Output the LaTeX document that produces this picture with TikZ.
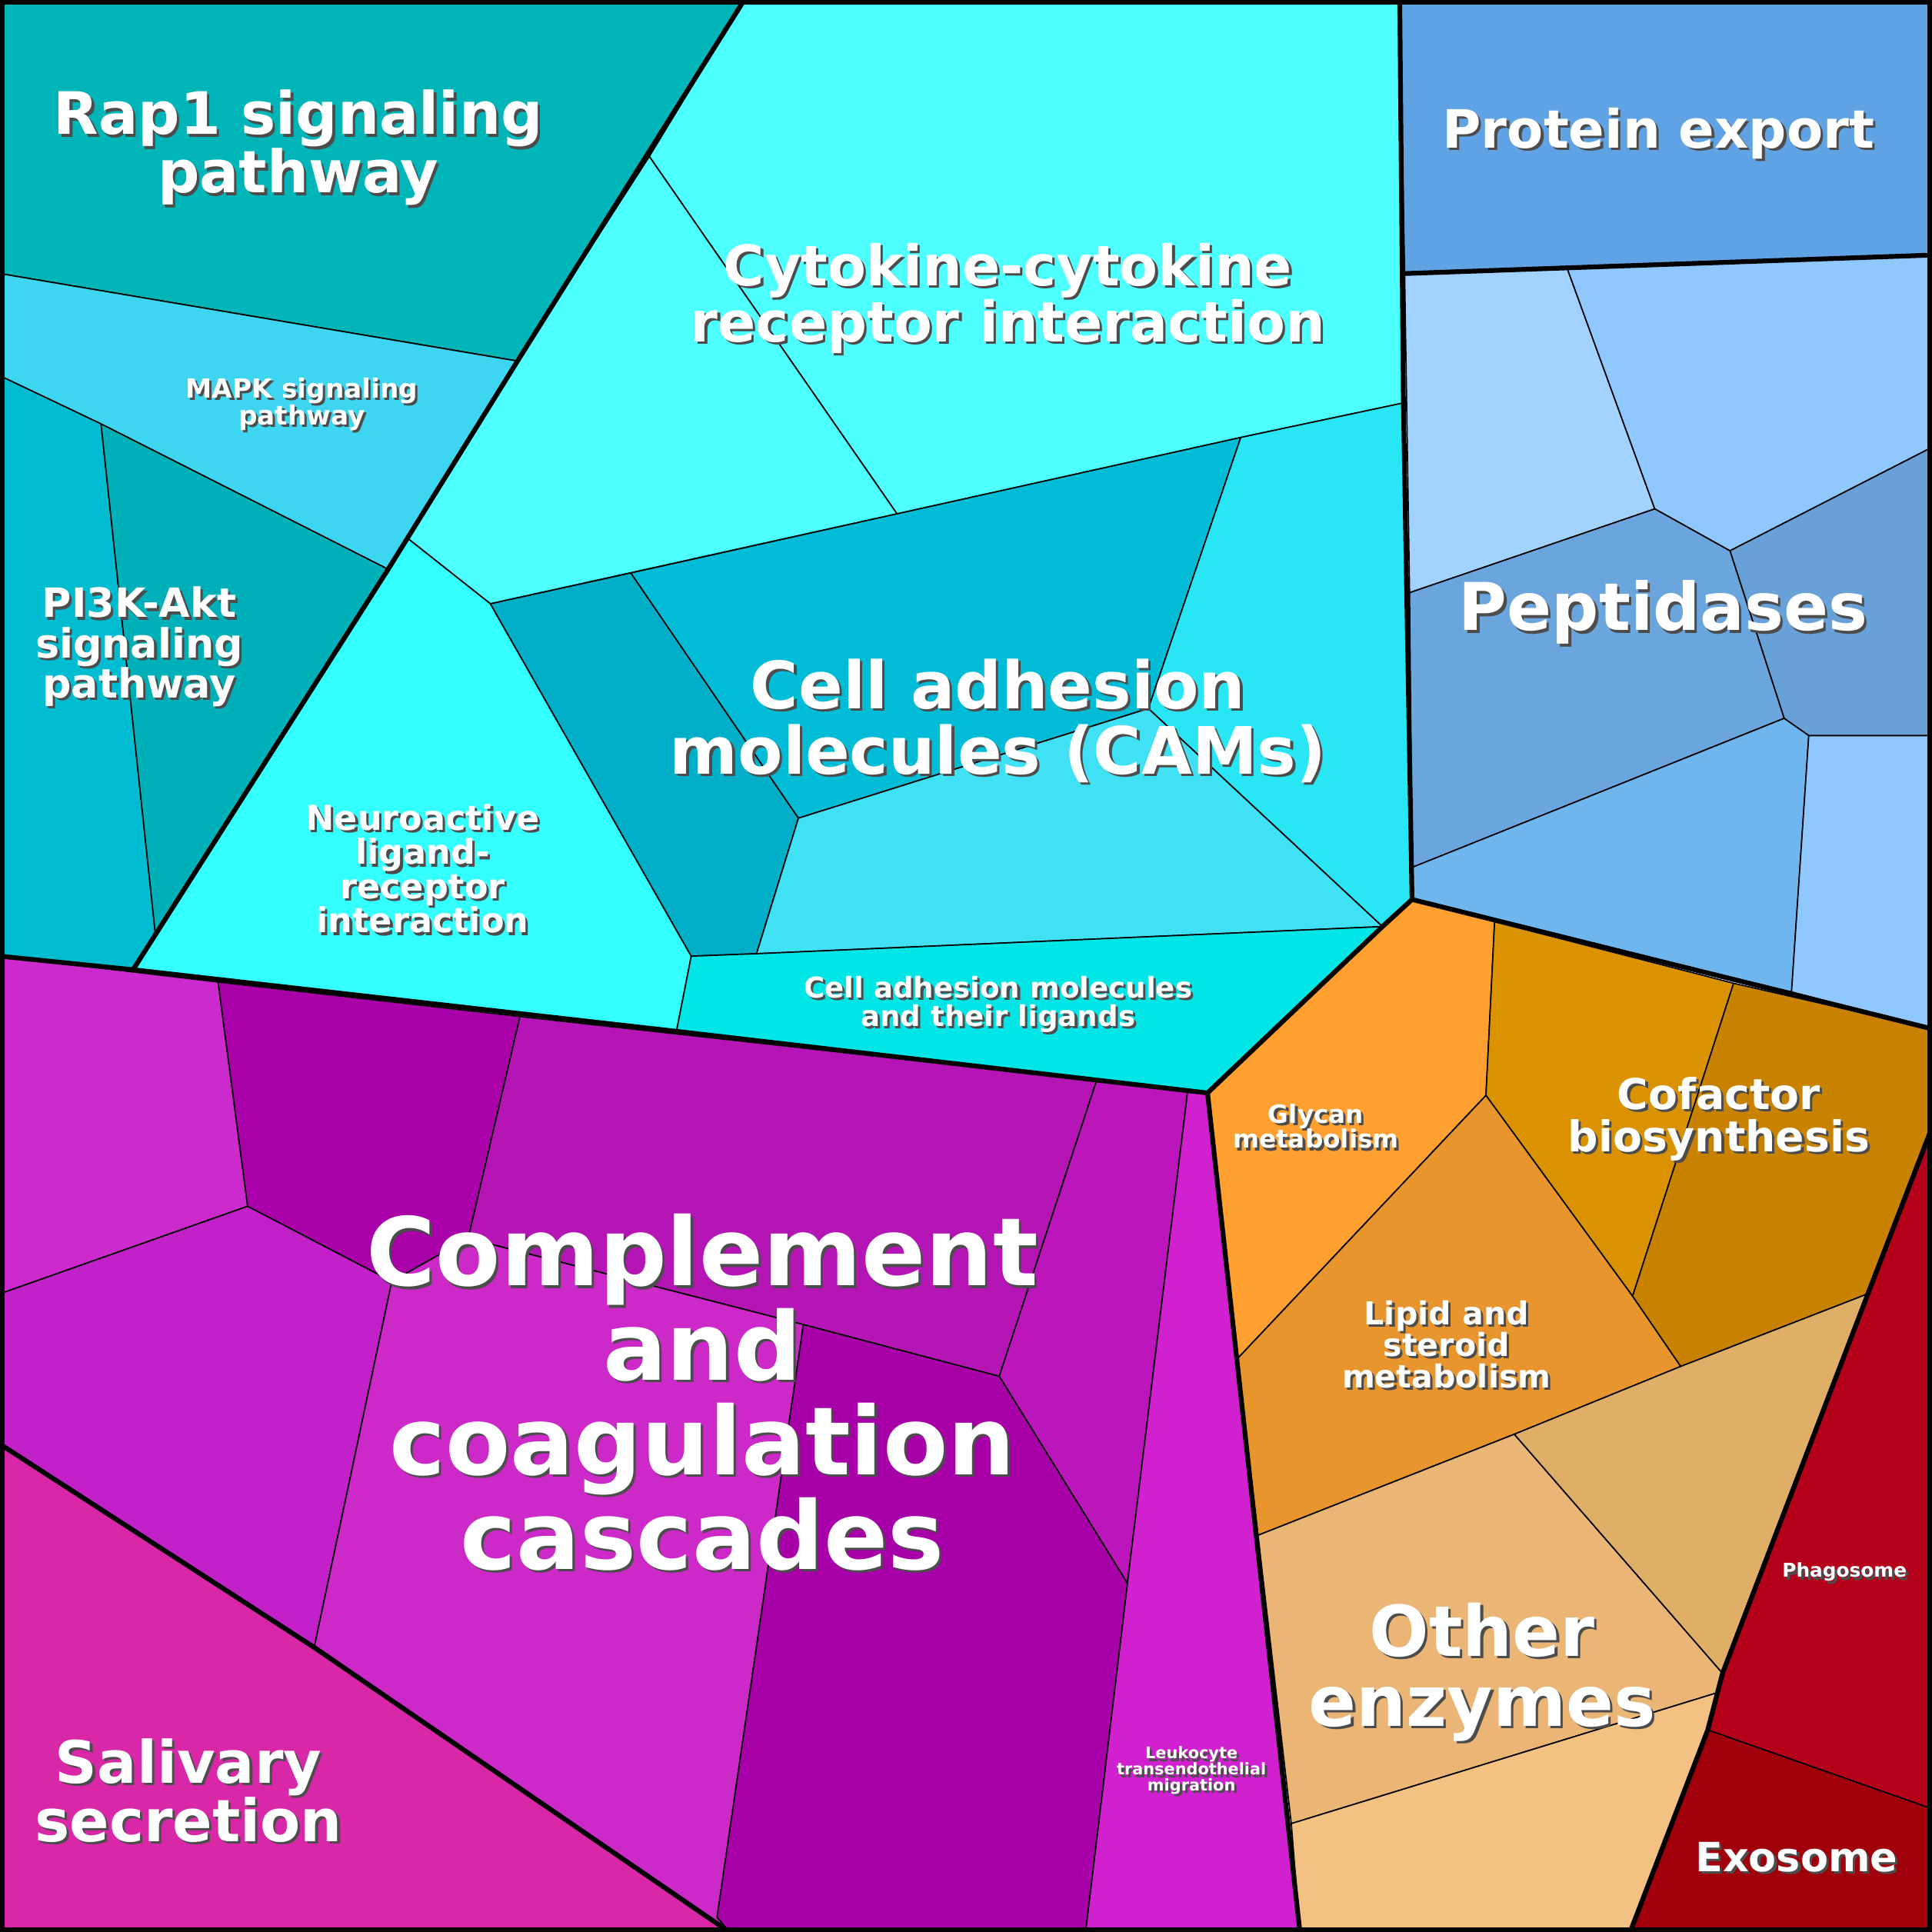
\documentclass[tikz,border=0pt]{standalone}
\usepackage{fontspec}
\setmainfont{DejaVu Sans}
\begin{document}
\begin{tikzpicture}[x=0.01cm,y=-0.01cm,
 cell/.style={draw=black,line width=0.3pt,line join=round},
 grp/.style={draw=black,line width=1.1pt,line join=round,line cap=round},
 lbl/.style={align=center,text=white,inner sep=0pt},
 shd/.style={align=center,text=black!70,inner sep=0pt}]
\newcommand{\lbl}[5]{%
 \node[shd,font={\bfseries\fontsize{#4}{#4*1.02}\selectfont}] (#1s) at (#2+2,#3+2) {#5};
 \node[lbl,font={\bfseries\fontsize{#4}{#4*1.02}\selectfont}] (#1) at (#2,#3) {#5};}
\useasboundingbox (0,0) rectangle (1568,1568);
% teal
\fill[cell,fill={rgb,255:red,0;green,181;blue,184}] (0,0)--(604,0)--(420,293)--(0,222)--cycle;
\fill[cell,fill={rgb,255:red,61;green,213;blue,239}] (0,222)--(420,293)--(315,462)--(82,344)--(0,305)--cycle;
\fill[cell,fill={rgb,255:red,0;green,188;blue,208}] (0,305)--(82,344)--(126,757)--(108,787)--(0,776)--cycle;
\fill[cell,fill={rgb,255:red,0;green,176;blue,184}] (82,344)--(315,462)--(126,757)--cycle;
% cyan
\fill[cell,fill={rgb,255:red,77;green,255;blue,255}] (604,0)--(1136,0)--(1139,327)--(1007,355)--(728,417)--(527,127)--cycle;
\fill[cell,fill={rgb,255:red,77;green,255;blue,255}] (527,127)--(728,417)--(398,490)--(331,437)--(420,293)--cycle;
\fill[cell,fill={rgb,255:red,51;green,255;blue,255}] (331,437)--(398,490)--(561,776)--(549,837)--(108,787)--cycle;
\fill[cell,fill={rgb,255:red,0;green,174;blue,200}] (398,490)--(512,465)--(648,664)--(614,774)--(561,776)--cycle;
\fill[cell,fill={rgb,255:red,0;green,188;blue,214}] (512,465)--(1007,355)--(932,575)--(648,664)--cycle;
\fill[cell,fill={rgb,255:red,41;green,230;blue,245}] (1007,355)--(1139,327)--(1146,730)--(1122,752)--(932,575)--cycle;
\fill[cell,fill={rgb,255:red,64;green,224;blue,245}] (648,664)--(932,575)--(1122,752)--(614,774)--cycle;
\fill[cell,fill={rgb,255:red,0;green,229;blue,229}] (561,776)--(614,774)--(1122,752)--(980,887)--(549,837)--cycle;
% blue
\fill[cell,fill={rgb,255:red,95;green,163;blue,229}] (1136,0)--(1568,0)--(1568,207)--(1140,222)--cycle;
\fill[cell,fill={rgb,255:red,162;green,210;blue,255}] (1140,222)--(1272,218)--(1343,413)--(1144,481)--cycle;
\fill[cell,fill={rgb,255:red,142;green,200;blue,255}] (1272,218)--(1568,207)--(1568,363)--(1404,447)--(1343,413)--cycle;
\fill[cell,fill={rgb,255:red,104;green,160;blue,216}] (1404,447)--(1568,363)--(1568,597)--(1468,597)--(1448,583)--cycle;
\fill[cell,fill={rgb,255:red,107;green,165;blue,222}] (1144,481)--(1343,413)--(1404,447)--(1448,583)--(1146,704)--cycle;
\fill[cell,fill={rgb,255:red,111;green,181;blue,238}] (1146,704)--(1448,583)--(1468,597)--(1454,805)--(1146,730)--cycle;
\fill[cell,fill={rgb,255:red,142;green,200;blue,255}] (1468,597)--(1568,597)--(1568,835)--(1454,805)--cycle;
% orange
\fill[cell,fill={rgb,255:red,255;green,160;blue,48}] (1146,730)--(1213,748)--(1206,889)--(1004,1103)--(980,887)--cycle;
\fill[cell,fill={rgb,255:red,218;green,146;blue,0}] (1213,748)--(1407,798)--(1325,1052)--(1206,889)--cycle;
\fill[cell,fill={rgb,255:red,200;green,130;blue,0}] (1407,798)--(1568,835)--(1568,915)--(1516,1050)--(1364,1109)--(1325,1052)--cycle;
\fill[cell,fill={rgb,255:red,232;green,149;blue,45}] (1206,889)--(1325,1052)--(1364,1109)--(1229,1164)--(1021,1246)--(1004,1103)--cycle;
\fill[cell,fill={rgb,255:red,235;green,181;blue,117}] (1021,1246)--(1229,1164)--(1398,1358)--(1393,1374)--(1048,1480)--cycle;
\fill[cell,fill={rgb,255:red,223;green,175;blue,104}] (1229,1164)--(1364,1109)--(1516,1050)--(1398,1358)--cycle;
\fill[cell,fill={rgb,255:red,243;green,194;blue,130}] (1048,1480)--(1393,1374)--(1386,1404)--(1323,1568)--(1055,1568)--cycle;
\fill[cell,fill={rgb,255:red,181;green,0;blue,26}] (1568,915)--(1568,1468)--(1386,1404)--(1398,1358)--(1516,1050)--cycle;
\fill[cell,fill={rgb,255:red,160;green,0;blue,10}] (1386,1404)--(1568,1468)--(1568,1568)--(1323,1568)--cycle;
% purple
\fill[cell,fill={rgb,255:red,204;green,42;blue,204}] (0,776)--(177,797)--(201,979)--(0,1050)--cycle;
\fill[cell,fill={rgb,255:red,170;green,0;blue,170}] (177,797)--(422,825)--(380,1005)--(318,1040)--(201,979)--cycle;
\fill[cell,fill={rgb,255:red,181;green,21;blue,181}] (422,825)--(890,877)--(811,1117)--(652,1075)--(380,1005)--cycle;
\fill[cell,fill={rgb,255:red,187;green,21;blue,187}] (890,877)--(964,885)--(915,1285)--(811,1117)--cycle;
\fill[cell,fill={rgb,255:red,208;green,32;blue,208}] (964,885)--(980,887)--(1055,1568)--(881,1568)--(915,1285)--cycle;
\fill[cell,fill={rgb,255:red,194;green,32;blue,200}] (0,1050)--(201,979)--(318,1040)--(255,1337)--(0,1172)--cycle;
\fill[cell,fill={rgb,255:red,205;green,40;blue,200}] (318,1040)--(380,1005)--(652,1075)--(582,1556)--(592,1568)--(255,1337)--cycle;
\fill[cell,fill={rgb,255:red,168;green,0;blue,168}] (652,1075)--(811,1117)--(915,1285)--(881,1568)--(592,1568)--(582,1556)--cycle;
\fill[cell,fill={rgb,255:red,216;green,40;blue,168}] (0,1172)--(255,1337)--(592,1568)--(0,1568)--cycle;
% group borders
\draw[grp] (604,0)--(420,293)--(315,462)--(108,787);
\draw[grp] (0,776)--(108,787)--(549,837)--(980,887);
\draw[grp] (1136,0)--(1139,327)--(1146,730)--(1122,752)--(980,887);
\draw[grp] (1140,222)--(1568,207);
\draw[grp] (1146,730)--(1568,835);
\draw[grp] (980,887)--(1055,1568);
\draw[grp] (1568,915)--(1516,1050)--(1398,1358)--(1386,1404)--(1323,1568);
\draw[grp] (0,1172)--(255,1337)--(592,1568);
\draw[line width=2pt] (0,0) rectangle (1568,1568);
% labels
\lbl{rap}{242}{120}{13.5pt}{Rap1 signaling\\pathway}
\lbl{mapk}{245}{328}{6.1pt}{MAPK signaling\\pathway}
\lbl{pi3k}{113}{525}{9.3pt}{PI3K-Akt\\signaling\\pathway}
\lbl{cyto}{818}{242}{12.9pt}{Cytokine-cytokine\\receptor interaction}
\lbl{neuro}{343}{705}{7.9pt}{Neuroactive\\ligand-\\receptor\\interaction}
\lbl{cams}{810}{585}{15.1pt}{Cell adhesion\\molecules (CAMs)}
\lbl{camlig}{810}{815}{6.6pt}{Cell adhesion molecules\\and their ligands}
\lbl{prot}{1346}{108}{12.2pt}{Protein export}
\lbl{pept}{1350}{497}{15.2pt}{Peptidases}
\lbl{glyc}{1068}{914}{5.8pt}{Glycan\\metabolism}
\lbl{cof}{1395}{908}{9.8pt}{Cofactor\\biosynthesis}
\lbl{lip}{1174}{1091}{7.3pt}{Lipid and\\steroid\\metabolism}
\lbl{comp}{570}{1130}{21.8pt}{Complement\\and\\coagulation\\cascades}
\lbl{oth}{1203}{1357}{16.2pt}{Other\\enzymes}
\lbl{phag}{1497}{1276}{4.4pt}{Phagosome}
\lbl{exo}{1458}{1507}{9.3pt}{Exosome}
\lbl{leuk}{967}{1437}{3.7pt}{Leukocyte\\transendothelial\\migration}
\lbl{sal}{153}{1453}{13.5pt}{Salivary\\secretion}
\end{tikzpicture}
\end{document}
